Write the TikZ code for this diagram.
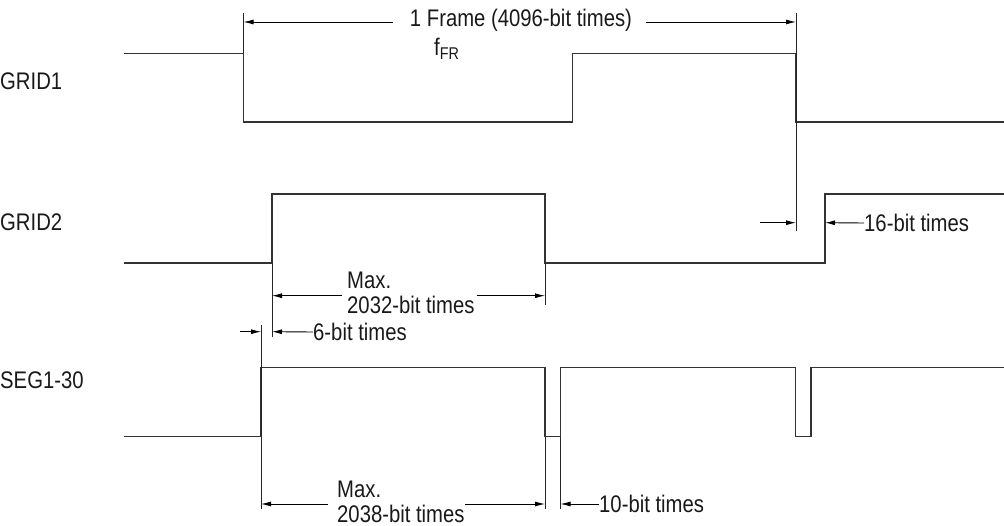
\documentclass[tikz,border=0pt]{standalone}
\usepackage{fontspec}
\setmainfont{Liberation Sans}[FakeStretch=0.845]
\usetikzlibrary{arrows.meta}
\begin{document}
\begin{tikzpicture}[x=1pt,y=-1pt,
  sig/.style={line width=1.4pt, draw=black!80},
  ext/.style={line width=0.9pt, draw=black!85},
  dim/.style={line width=0.9pt, draw=black, -{Latex[length=10pt,width=5pt]}},
  lbl/.style={font=\fontsize{24}{25}\selectfont, inner sep=0pt, text=black!90},
]
\useasboundingbox (0,0) rectangle (1004,526);

% signal labels
\node[lbl, anchor=west] (g1) at (0,81) {GRID1};
\node[lbl, anchor=west] (g2) at (0,222) {GRID2};
\node[lbl, anchor=west] (sg) at (0,380) {SEG1-30};

% waveforms
\draw[sig] (124,53.5) -- (243.5,53.5) -- (243.5,122) -- (572.5,122) -- (572.5,53.5)
  -- (796,53.5) -- (796,122) -- (1004,122);
\draw[sig] (124,263) -- (272,263) -- (272,194) -- (545,194) -- (545,263)
  -- (825,263) -- (825,194) -- (1004,194);
\draw[sig] (124,436.5) -- (261,436.5) -- (261,367.5) -- (545,367.5) -- (545,436.5)
  -- (560.5,436.5) -- (560.5,367.5) -- (795.5,367.5) -- (795.5,436.5)
  -- (811,436.5) -- (811,367.5) -- (1004,367.5);

% extension lines
\coordinate (e1t) at (243.5,13); \coordinate (e1b) at (243.5,53.5);
\coordinate (e2t) at (796,13);   \coordinate (e2b) at (796,231);
\coordinate (e3t) at (272,263);  \coordinate (e3b) at (272,337);
\coordinate (e4t) at (545,263);  \coordinate (e4b) at (545,305);
\coordinate (e5t) at (261,325);  \coordinate (e5b) at (261,509);
\coordinate (e6t) at (545,436.5);\coordinate (e6b) at (545,509);
\coordinate (e7t) at (560.5,436.5);\coordinate (e7b) at (560.5,509);
\foreach \a in {1,...,7} \draw[ext] (e\a t) -- (e\a b);

% 1 Frame
\node[lbl] (fr) at (521,20) {1 Frame (4096-bit times)};
\node[lbl, anchor=base west] (ffr) at (434,56) {f\raisebox{-3.5pt}{\fontsize{17}{17}\selectfont FR}};
\coordinate (fra) at (243.5,22); \coordinate (frb) at (796,22);
\draw[dim] ([xshift=-17pt]fr.west |- fra) -- (fra);
\draw[dim] ([xshift=14pt]fr.east |- frb) -- (frb);

% 16-bit times
\node[lbl, anchor=west] (t16) at (864,223) {16-bit times};
\coordinate (s16a) at (760,222.7); \coordinate (s16b) at (796,222.7);
\coordinate (s16c) at (825,222.7);
\draw[dim] (s16a) -- (s16b);
\draw[dim] (t16.west) -- (s16c);

% Max. 2032-bit times
\node[lbl, anchor=north west, align=left] (m32) at (347,272) {Max.\\2032-bit times};
\coordinate (m32a) at (272,295.7); \coordinate (m32b) at (545,295.7);
\draw[dim] (342,295.7) -- (m32a);
\draw[dim] (477,295.7) -- (m32b);

% 6-bit times
\node[lbl, anchor=west] (t6) at (313,332) {6-bit times};
\coordinate (s6a) at (240,331.7); \coordinate (s6b) at (261,331.7);
\coordinate (s6c) at (272,331.7);
\draw[dim] (s6a) -- (s6b);
\draw[dim] (t6.west) -- (s6c);

% Max. 2038-bit times
\node[lbl, anchor=north west, align=left] (m38) at (337,481) {Max.\\2038-bit times};
\coordinate (m38a) at (261,504); \coordinate (m38b) at (545,504);
\draw[dim] (328,504) -- (m38a);
\draw[dim] (465,504) -- (m38b);

% 10-bit times
\node[lbl, anchor=west] (t10) at (599,504) {10-bit times};
\coordinate (s10) at (560.5,504);
\draw[dim] (t10.west) -- (s10);
\end{tikzpicture}
\end{document}
